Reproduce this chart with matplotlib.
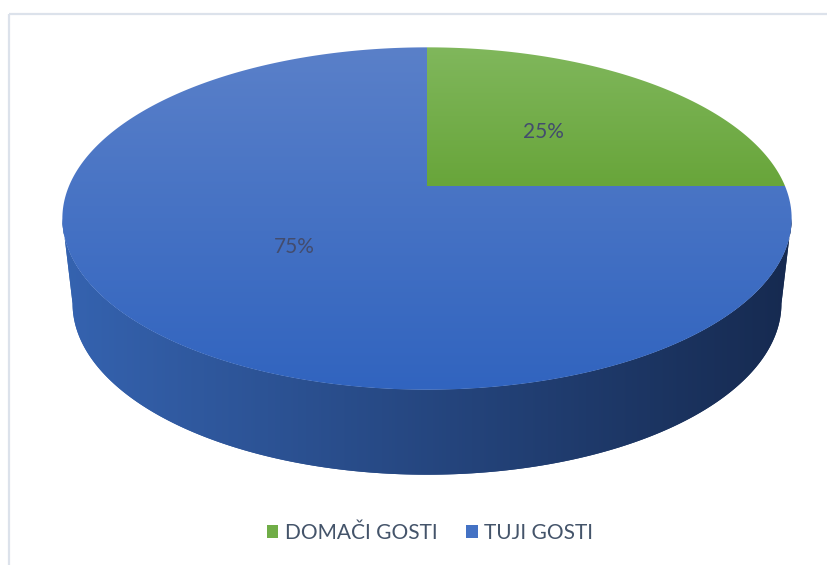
import numpy as np
import matplotlib.pyplot as plt
from matplotlib.patches import Polygon, Patch, Rectangle
from matplotlib.colors import to_rgb

plt.rcParams['font.family'] = ['Lato', 'DejaVu Sans']

labels = ['DOMAČI GOSTI', 'TUJI GOSTI']
shares = [25, 75]
top_colors = [('#80b75c', '#68a53a'), ('#5a80c9', '#3164bf')]
side_colors = ('#3563b0', '#162a50')
legend_colors = ['#70ad47', '#4472c4']
text_color = '#44546a'

# tilted disc in pixel coordinates (perspective)
cx, cy = 427, 186
A, B, k = 358, 165, 0.19
depth = 85
shrink = 0.972


def project(t, r=1.0, bottom=False):
    x, y = r * np.cos(t), r * np.sin(t)
    w = 1 + k * y
    a = A * shrink if bottom else A
    return cx + a * x / w, cy - B * y / w + (depth if bottom else 0)


def gradient(ax, poly, c0, c1, horizontal=False):
    c0, c1 = np.array(to_rgb(c0)), np.array(to_rgb(c1))
    f = np.linspace(0, 1, 256)
    img = c0 + (c1 - c0) * f[:, None]
    img = img[None, :, :] if horizontal else img[:, None, :]
    x0, y0 = poly.get_xy().min(axis=0)
    x1, y1 = poly.get_xy().max(axis=0)
    im = ax.imshow(img, extent=(x0, x1, y1, y0), origin='upper',
                   interpolation='bilinear', aspect='auto', zorder=poly.get_zorder())
    im.set_clip_path(poly)


fig = plt.figure(figsize=(8.28, 5.65), dpi=100)
ax = fig.add_axes([0, 0, 1, 1])
ax.set_xlim(0, 828)
ax.set_ylim(565, 0)
ax.axis('off')

ax.add_patch(Rectangle((9, 14), 900, 600, fill=False, ec='#dce2eb', lw=1.6, zorder=1))

# slice angles, clockwise from 12 o'clock
bounds = 90 - 360 * np.cumsum([0] + shares) / sum(shares)
t_left = np.pi + np.arcsin(k)
t_right = 2 * np.pi - np.arcsin(k)

for i in range(len(shares)):
    s, e = np.radians(bounds[i]), np.radians(bounds[i + 1])
    # visible front wall: part of slice inside [t_left, t_right]
    lo, hi = sorted([s % (2 * np.pi), e % (2 * np.pi) or 2 * np.pi])
    if e < s and (s - e) > np.pi:
        lo, hi = e % (2 * np.pi), s % (2 * np.pi) or 2 * np.pi
        lo, hi = min(lo, hi), max(lo, hi)
    a0, a1 = max(lo, t_left), min(hi, t_right)
    if a1 > a0:
        tt = np.linspace(a0, a1, 200)
        tx, ty = project(tt)
        bx, by = project(tt[::-1], bottom=True)
        side = Polygon(np.column_stack([np.r_[tx, bx], np.r_[ty, by]]),
                       closed=True, fc='none', ec='none', zorder=2)
        ax.add_patch(side)
        gradient(ax, side, side_colors[0], side_colors[1], horizontal=True)

for i in range(len(shares)):
    s, e = np.radians(bounds[i]), np.radians(bounds[i + 1])
    tt = np.linspace(s, e, 300)
    px, py = project(tt)
    top = Polygon(np.column_stack([np.r_[cx, px], np.r_[cy, py]]),
                  closed=True, fc='none', ec='none', zorder=3)
    ax.add_patch(top)
    gradient(ax, top, top_colors[i][0], top_colors[i][1])
    mid = (s + e) / 2
    lx, ly = project(mid, r=0.49)
    ax.text(lx, ly, f'{shares[i]}%', ha='center', va='center',
            fontsize=15, color='#434c6e', zorder=5)

handles = [Patch(fc=c, ec='none') for c in legend_colors]
fig.legend(handles, labels, loc='center', bbox_to_anchor=(430 / 828, 1 - 533 / 565),
           ncol=2, frameon=False, fontsize=15, handlelength=0.55, handleheight=0.55,
           handletextpad=0.3, columnspacing=1.4, labelcolor=text_color)

fig.savefig('out.png', dpi=100)
